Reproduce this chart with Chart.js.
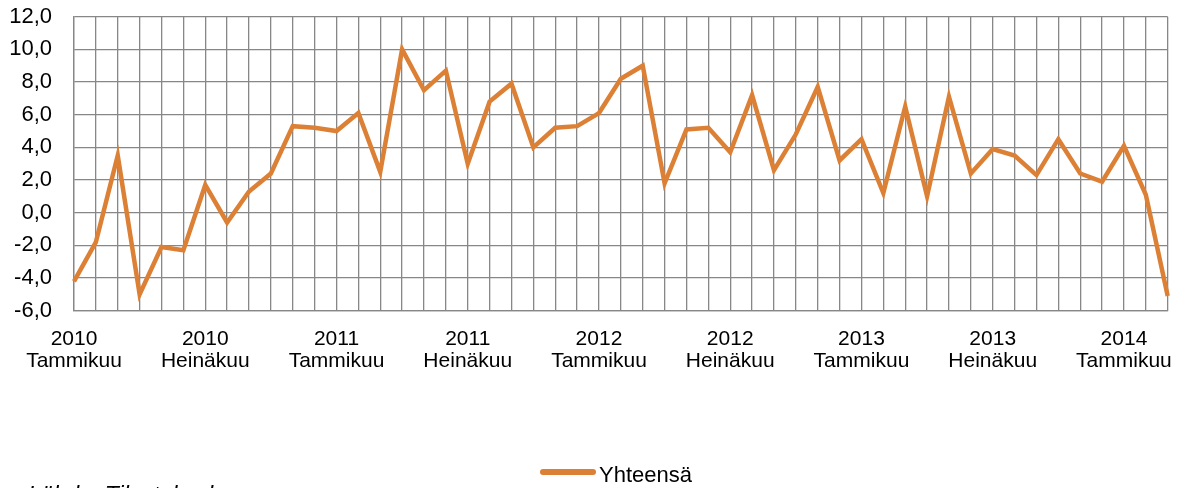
<!DOCTYPE html>
<html>
<head>
<meta charset="utf-8">
<title>Yhteensä</title>
<script src="https://cdn.jsdelivr.net/npm/chart.js@4/dist/chart.umd.min.js"></script>
<style>
    html, body { margin: 0; padding: 0; background: #fff; }
    #wrap { width: 1179px; height: 488px; }
</style>
</head>
<body>
<div id="wrap"><canvas id="chart" width="1179" height="488"></canvas></div>
<script>
// Kuukaudet tammikuu 2010 - maaliskuu 2014
const monthNames = ['Tammikuu', 'Helmikuu', 'Maaliskuu', 'Huhtikuu', 'Toukokuu', 'Kesäkuu',
    'Heinäkuu', 'Elokuu', 'Syyskuu', 'Lokakuu', 'Marraskuu', 'Joulukuu'];
const years = [2010, 2011, 2012, 2013, 2014];
const monthCount = 51;

// Yhteensä-sarja (luettu kuvasta)
const totals = [
    -4.2, -1.8, 3.5, -5.0, -2.1, -2.3, 1.7, -0.6, 1.3, 2.4, 5.3, 5.2,
    5.0, 6.1, 2.5, 10.0, 7.5, 8.7, 3.0, 6.8, 7.9, 4.0, 5.2, 5.3,
    6.1, 8.2, 9.0, 1.8, 5.1, 5.2, 3.7, 7.2, 2.6, 4.8, 7.7, 3.2,
    4.5, 1.2, 6.5, 1.0, 7.1, 2.4, 3.9, 3.5, 2.3, 4.5, 2.4, 1.9,
    4.1, 1.1, -5.1
];

const yTicks = { min: -6, max: 12, step: 2 };
const seriesLabel = 'Yhteensä';
const sourceText = 'Lähde: Tilastokeskus';

// Build category labels [vuosi, kuukausi]
const labels = [];
for (let i = 0; i < monthCount; i++) {
    labels.push([String(years[Math.floor(i / 12)]), monthNames[i % 12]]);
}

const lineColor = '#DC8036';
const gridColor = '#878787';
const fontFamily = '"Liberation Sans", Arial, sans-serif';

// Legend and source note at the bottom
const bottomNotes = {
    id: 'bottomNotes',
    afterDraw(chart) {
        const ctx = chart.ctx;
        const ds = chart.data.datasets[0];
        ctx.save();
        ctx.strokeStyle = ds.borderColor;
        ctx.lineWidth = 6;
        ctx.lineCap = 'round';
        ctx.beginPath();
        ctx.moveTo(543, 472);
        ctx.lineTo(593, 472);
        ctx.stroke();
        ctx.fillStyle = '#000';
        ctx.font = '22px ' + fontFamily;
        ctx.textBaseline = 'alphabetic';
        ctx.fillText(ds.label, 599, 481.5);
        ctx.font = 'italic 23px ' + fontFamily;
        ctx.fillText(sourceText, 28, 502.5);
        ctx.restore();
    }
};

const ctx = document.getElementById('chart').getContext('2d');
new Chart(ctx, {
    type: 'line',
    data: {
        labels: labels,
        datasets: [{
            label: seriesLabel,
            data: totals,
            borderColor: lineColor,
            backgroundColor: lineColor,
            borderWidth: 4.5,
            pointRadius: 0,
            tension: 0,
            fill: false
        }]
    },
    options: {
        responsive: false,
        animation: false,
        layout: {
            padding: { top: 16.7, right: 11.3, bottom: 107.3, left: 0 }
        },
        plugins: {
            legend: { display: false },
            tooltip: { enabled: false }
        },
        scales: {
            x: {
                offset: false,
                afterFit: function(scale) {
                    scale.height = 70;
                    scale.paddingLeft = 0;
                    scale.paddingRight = 0;
                },
                grid: { color: gridColor, lineWidth: 1.3, drawTicks: false },
                border: { color: gridColor, width: 1.3 },
                ticks: {
                    autoSkip: false,
                    maxRotation: 0,
                    minRotation: 0,
                    padding: 18,
                    color: '#000',
                    font: { family: fontFamily, size: 21, lineHeight: 1.03 },
                    callback: function(value, index) {
                        return index % 6 === 0 ? this.getLabelForValue(value) : '';
                    }
                }
            },
            y: {
                min: yTicks.min,
                max: yTicks.max,
                afterFit: function(scale) {
                    scale.width = 74;
                    scale.paddingTop = 0;
                    scale.paddingBottom = 0;
                },
                grid: { color: gridColor, lineWidth: 1.3, drawTicks: false },
                border: { color: gridColor, width: 1.3 },
                ticks: {
                    stepSize: yTicks.step,
                    padding: 22,
                    color: '#000',
                    font: { family: fontFamily, size: 22 },
                    callback: function(value) {
                        return value.toFixed(1).replace('.', ',');
                    }
                }
            }
        }
    },
    plugins: [bottomNotes]
});
</script>
</body>
</html>
